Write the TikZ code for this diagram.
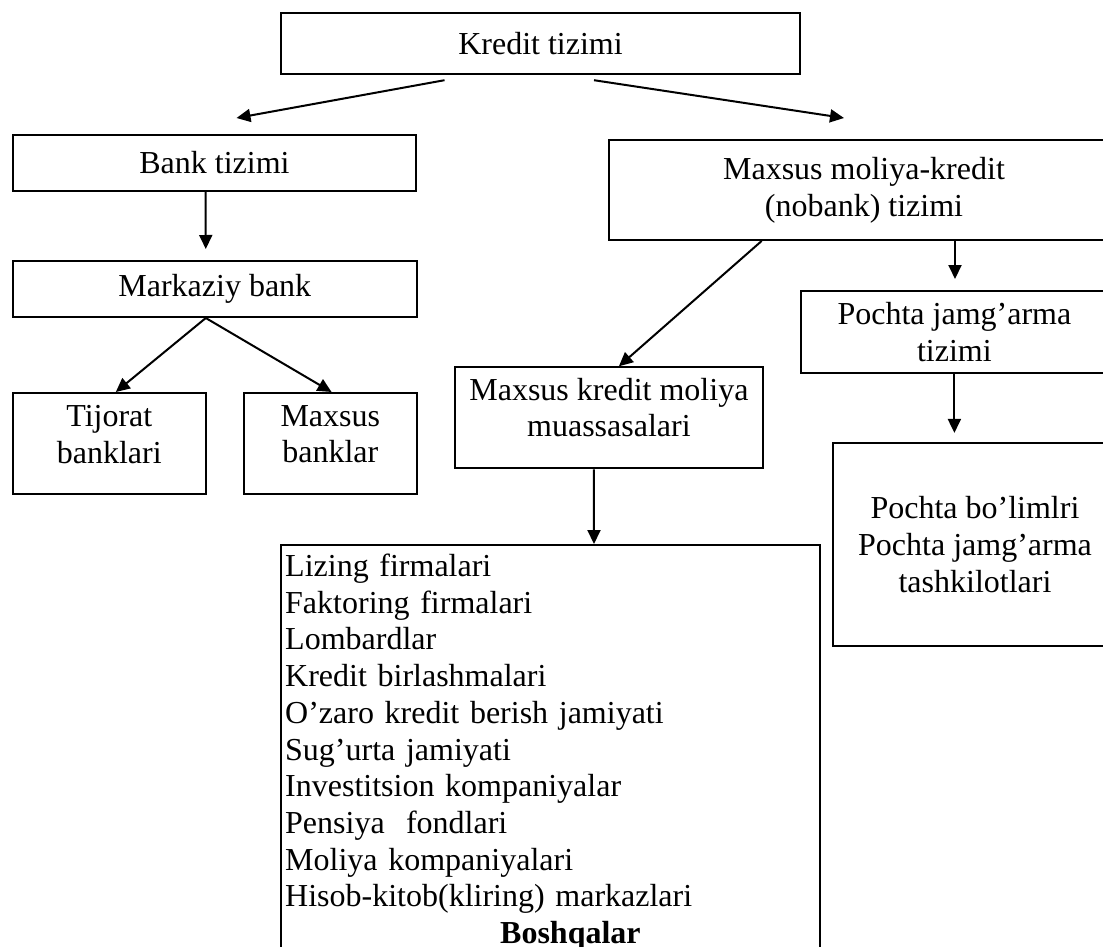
\documentclass[tikz,border=0pt]{standalone}
\usepackage{fontspec}
\setmainfont{Liberation Serif}
\usepackage{tikz}
\usetikzlibrary{positioning,calc,arrows.meta}

\begin{document}
\begin{tikzpicture}[x=1pt, y=-1pt, line width=2pt, >={Triangle[length=14pt,width=13pt]},
    box/.style={draw, rectangle, align=center, inner sep=4pt, font=\fontsize{32}{36.7}\selectfont}]
    \useasboundingbox (0,0) rectangle (1103,946);
    \clip (0,0) rectangle (1103,946);

    \node (kredit) [box, minimum width=519pt, minimum height=61pt] at (540.5,43.7) {Kredit tizimi};
    \node (bank) [box, minimum width=403pt, minimum height=56pt] at (214.5,163) {Bank tizimi};
    \node (markaziy) [box, minimum width=404pt, minimum height=56pt] at (214.8,289) {Markaziy bank};
    \node (tijorat) [box, minimum width=193pt, minimum height=101pt] at (109.3,443.5) {Tijorat\\banklari\\[-18pt]\mbox{}};
    \node (maxbank) [box, minimum width=173.5pt, minimum height=101pt] at (330.3,443.5) {Maxsus\\banklar\\[-18pt]\mbox{}};
    \node (nobank) [box, minimum width=511pt, minimum height=100pt] at (864,190) {Maxsus moliya-kredit\\(nobank) tizimi};
    \node (pochta) [box, minimum width=307pt, minimum height=82pt] at (954.4,332) {Pochta jamg’arma\\tizimi};
    \node (bolim) [box, minimum width=284pt, minimum height=203pt] at (975,544.4) {Pochta bo’limlri\\Pochta jamg’arma\\tashkilotlari};
    \node (muassasa) [box, minimum width=308pt, minimum height=101pt] at (608.9,417.8) {Maxsus kredit moliya\\muassasalari\\[-16pt]\mbox{}};
    \node (turlar) [box, anchor=north, align=left, text width=531pt, inner ysep=9pt] at (550.7,544) {%
        Lizing firmalari\\
        Faktoring firmalari\\
        Lombardlar\\
        Kredit birlashmalari\\
        O’zaro kredit berish jamiyati\\
        Sug’urta jamiyati\\
        Investitsion kompaniyalar\\
        Pensiya\ \ fondlari\\
        Moliya kompaniyalari\\
        Hisob-kitob(kliring) markazlari\\
        \hspace*{215pt}\textbf{Boshqalar}};

    \draw[->] ([xshift=-96pt,yshift=-5pt]kredit.south) -- ([xshift=22pt,yshift=16pt]bank.north);
    \draw[->] ([xshift=53.5pt,yshift=-5pt]kredit.south) -- ([xshift=-20pt,yshift=21pt]nobank.north);
    \draw[->] ([xshift=-9pt]bank.south) -- ([xshift=-9pt,yshift=11pt]markaziy.north);
    \draw[->] ([xshift=-9pt]markaziy.south) -- ([xshift=6.5pt]tijorat.north);
    \draw[->] ([xshift=-9pt]markaziy.south) -- ([xshift=1.3pt]maxbank.north);
    \draw[->] ([xshift=-102.4pt]nobank.south) -- ([xshift=10pt]muassasa.north);
    \draw[->] ([xshift=91pt]nobank.south) -- ([xshift=0.6pt,yshift=11pt]pochta.north);
    \draw[->] (pochta.south) -- ([xshift=-20.6pt,yshift=9pt]bolim.north);
    \draw[->] ([xshift=-15pt]muassasa.south) -- ([xshift=43.3pt]turlar.north);
\end{tikzpicture}
\end{document}
